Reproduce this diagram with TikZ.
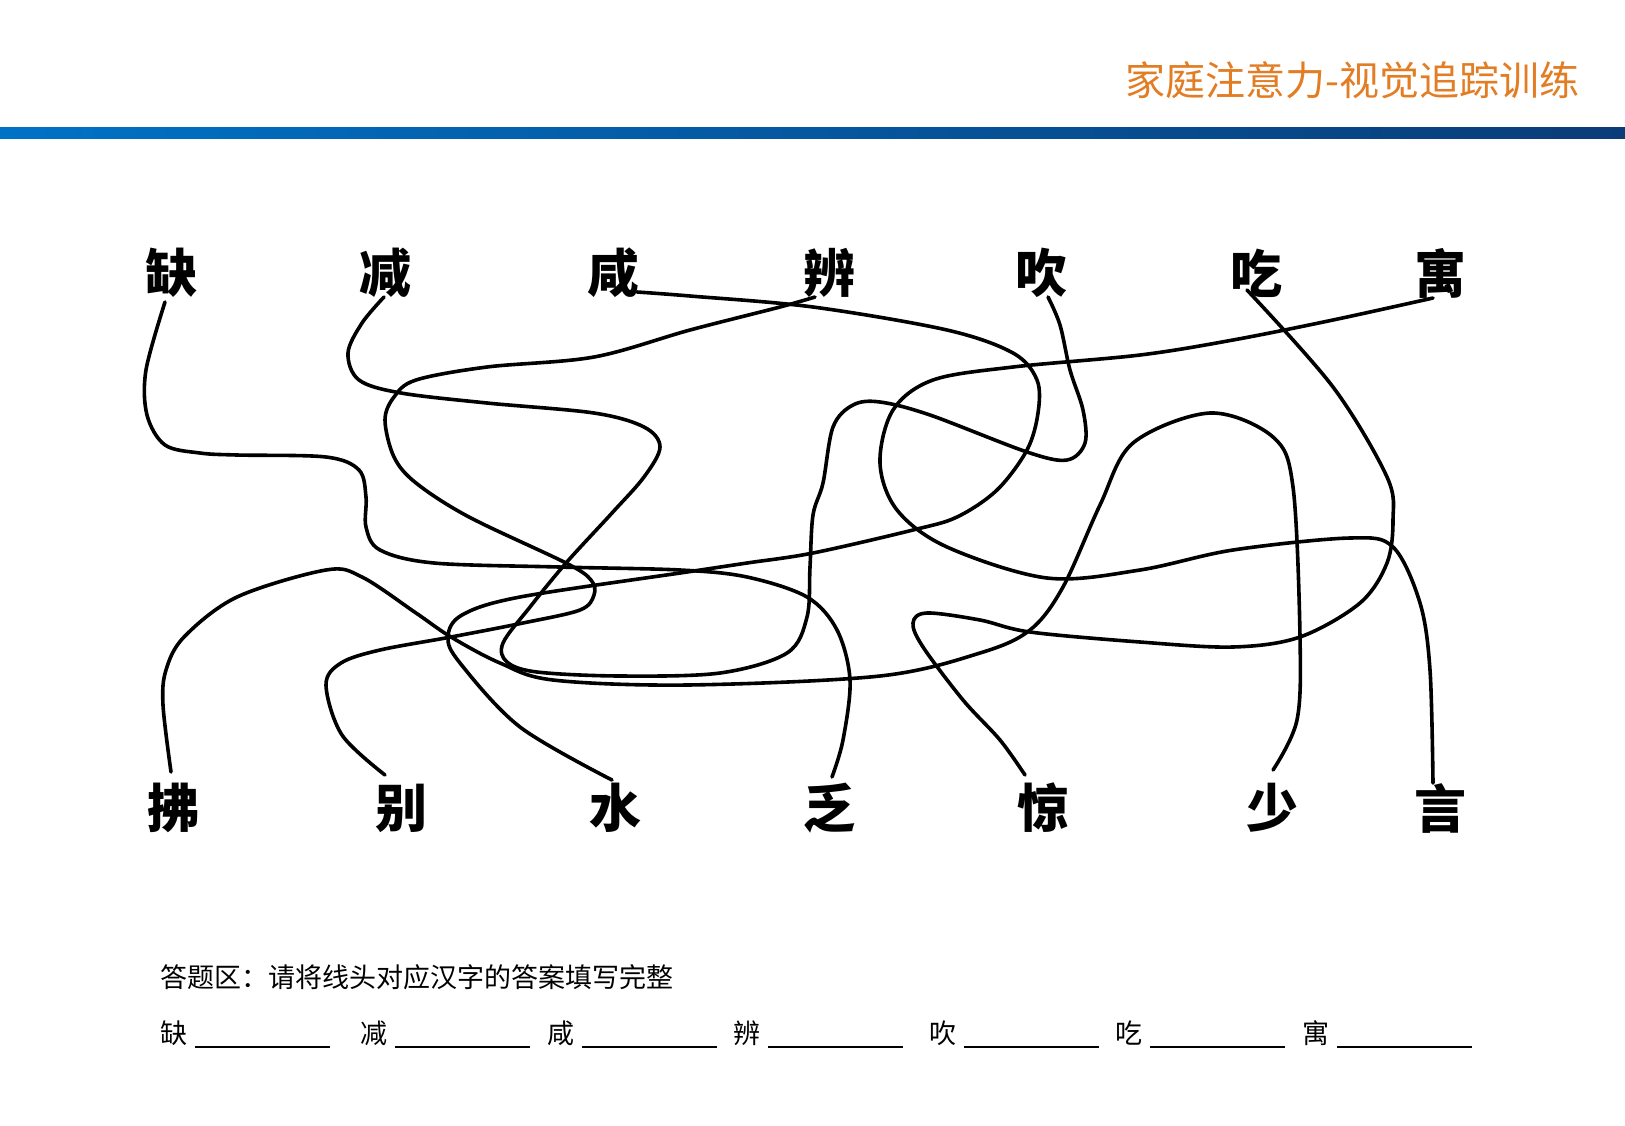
\documentclass[tikz,border=0pt]{standalone}
\usepackage{fontspec}
\newfontfamily\cjk{Noto Sans CJK SC}
\usetikzlibrary{calc}
\definecolor{hdr}{RGB}{226,125,35}
\definecolor{barA}{RGB}{0,114,198}
\definecolor{barB}{RGB}{10,60,120}
\tikzset{
  big/.style={font=\cjk\bfseries\fontsize{52}{52}\selectfont, inner sep=0pt},
  ans/.style={font=\cjk\fontsize{27}{27}\selectfont, inner sep=0pt, anchor=west},
  wire/.style={line width=3.6pt, line cap=round, line join=round},
  blank/.style={line width=1.6pt}
}
\begin{document}
\begin{tikzpicture}[x=1pt,y=-1pt]
\useasboundingbox (0,0) rectangle (1625,1125);
\fill[white] (0,0) rectangle (1625,1125);
\node[font=\cjk\fontsize{40}{40}\selectfont, text=hdr, anchor=east, inner sep=0pt] (title) at (1580,80) {家庭注意力-视觉追踪训练};
\shade[left color=barA, right color=barB] (0,127) rectangle (1625,138);
% top row
\node[big] (t1) at (171,273) {缺};
\node[big] (t2) at (385,273) {减};
\node[big] (t3) at (613,273) {咸};
\node[big] (t4) at (829,273) {辨};
\node[big] (t5) at (1041,273) {吹};
\node[big] (t6) at (1256,273) {吃};
\node[big] (t7) at (1440,273) {寓};
% bottom row
\node[big] (b1) at (173,808) {拂};
\node[big] (b2) at (401,808) {别};
\node[big] (b3) at (615,808) {水};
\node[big] (b4) at (829,808) {乏};
\node[big] (b5) at (1043,808) {惊};
\node[big] (b6) at (1272,808) {少};
\node[big] (b7) at (1440,808) {言};
% wire ends
\coordinate (e1) at (165,302); \coordinate (f4) at (832,777);
\coordinate (e2) at (384,297); \coordinate (e5) at (1048,297);
\coordinate (e3) at (637,292); \coordinate (f3) at (612,780);
\coordinate (e4) at (815,297); \coordinate (f2) at (385,775);
\coordinate (f1) at (171,772); \coordinate (f6) at (1273,770);
\coordinate (e6) at (1247,290); \coordinate (f5) at (1025,775);
\coordinate (e7) at (1433,298); \coordinate (f7) at (1433,783);
% 缺 -> 乏
\draw[wire] plot[smooth,tension=0.55] coordinates {(e1) (146,370) (147,415) (165,445) (200,453) (237,455) (326,457) (359,470) (366,497) (366,527) (380,550) (434,563) (559,567) (680,570) (747,577) (807,597) (837,630) (850,680) (843,740) (f4)};
% 减 -> 吹
\draw[wire] plot[smooth,tension=0.55] coordinates {(e2) (362,323) (348,353) (359,380) (401,393) (487,403) (594,413) (644,427) (660,447) (644,477) (612,513) (566,563) (530,607) (503,643) (507,662) (537,672) (620,676) (720,673) (787,653) (807,617) (810,567) (813,515) (823,483) (833,427) (853,405) (880,402) (930,415) (1027,452) (1067,460) (1085,443) (1083,410) (1070,370) (1060,325) (e5)};
% 咸 -> 水
\draw[wire] plot[smooth,tension=0.55] coordinates {(e3) (690,296) (813,307) (947,330) (1013,353) (1037,380) (1038,413) (1027,450) (997,490) (957,517) (913,530) (813,553) (747,563) (687,572) (520,597) (462,615) (448,637) (460,663) (520,727) (f3)};
% 辨 -> 别
\draw[wire] plot[smooth,tension=0.55] coordinates {(e4) (780,307) (690,330) (594,357) (487,367) (416,380) (394,397) (385,420) (394,457) (416,483) (469,517) (566,563) (591,580) (594,595) (580,610) (523,623) (451,637) (380,650) (341,663) (326,685) (342,735) (f2)};
% 拂 -> 少
\draw[wire] plot[smooth,tension=0.55] coordinates {(f1) (163,705) (166,670) (184,637) (237,597) (326,570) (362,577) (416,613) (451,637) (500,663) (553,680) (687,685) (880,676) (980,653) (1030,630) (1063,587) (1100,505) (1133,443) (1210,413) (1273,437) (1293,487) (1300,637) (1297,720) (f6)};
% 吃 -> 惊
\draw[wire] plot[smooth,tension=0.55] coordinates {(e6) (1333,387) (1387,477) (1393,520) (1387,563) (1360,603) (1300,637) (1233,647) (1140,642) (1030,632) (980,620) (927,613) (913,623) (923,647) (963,700) (1000,740) (f5)};
% 寓 -> 言
\draw[wire] plot[smooth,tension=0.55] coordinates {(e7) (1333,320) (1233,340) (1140,355) (1013,367) (933,380) (893,410) (880,463) (897,510) (947,547) (1047,578) (1140,570) (1233,550) (1350,538) (1393,547) (1420,603) (1430,670) (f7)};
% answer area
\node[ans] (q) at (160,977) {答题区：请将线头对应汉字的答案填写完整};
\foreach \c/\x/\n in {缺/160/a1,减/360/a2,咸/547/a3,辨/733/a4,吹/929/a5,吃/1115/a6,寓/1302/a7}{
  \node[ans] (\n) at (\x,1033) {\c};
  \draw[blank] ([xshift=8pt]\n.east |- 0,1047) -- ++(135,0);
}
\end{tikzpicture}
\end{document}
